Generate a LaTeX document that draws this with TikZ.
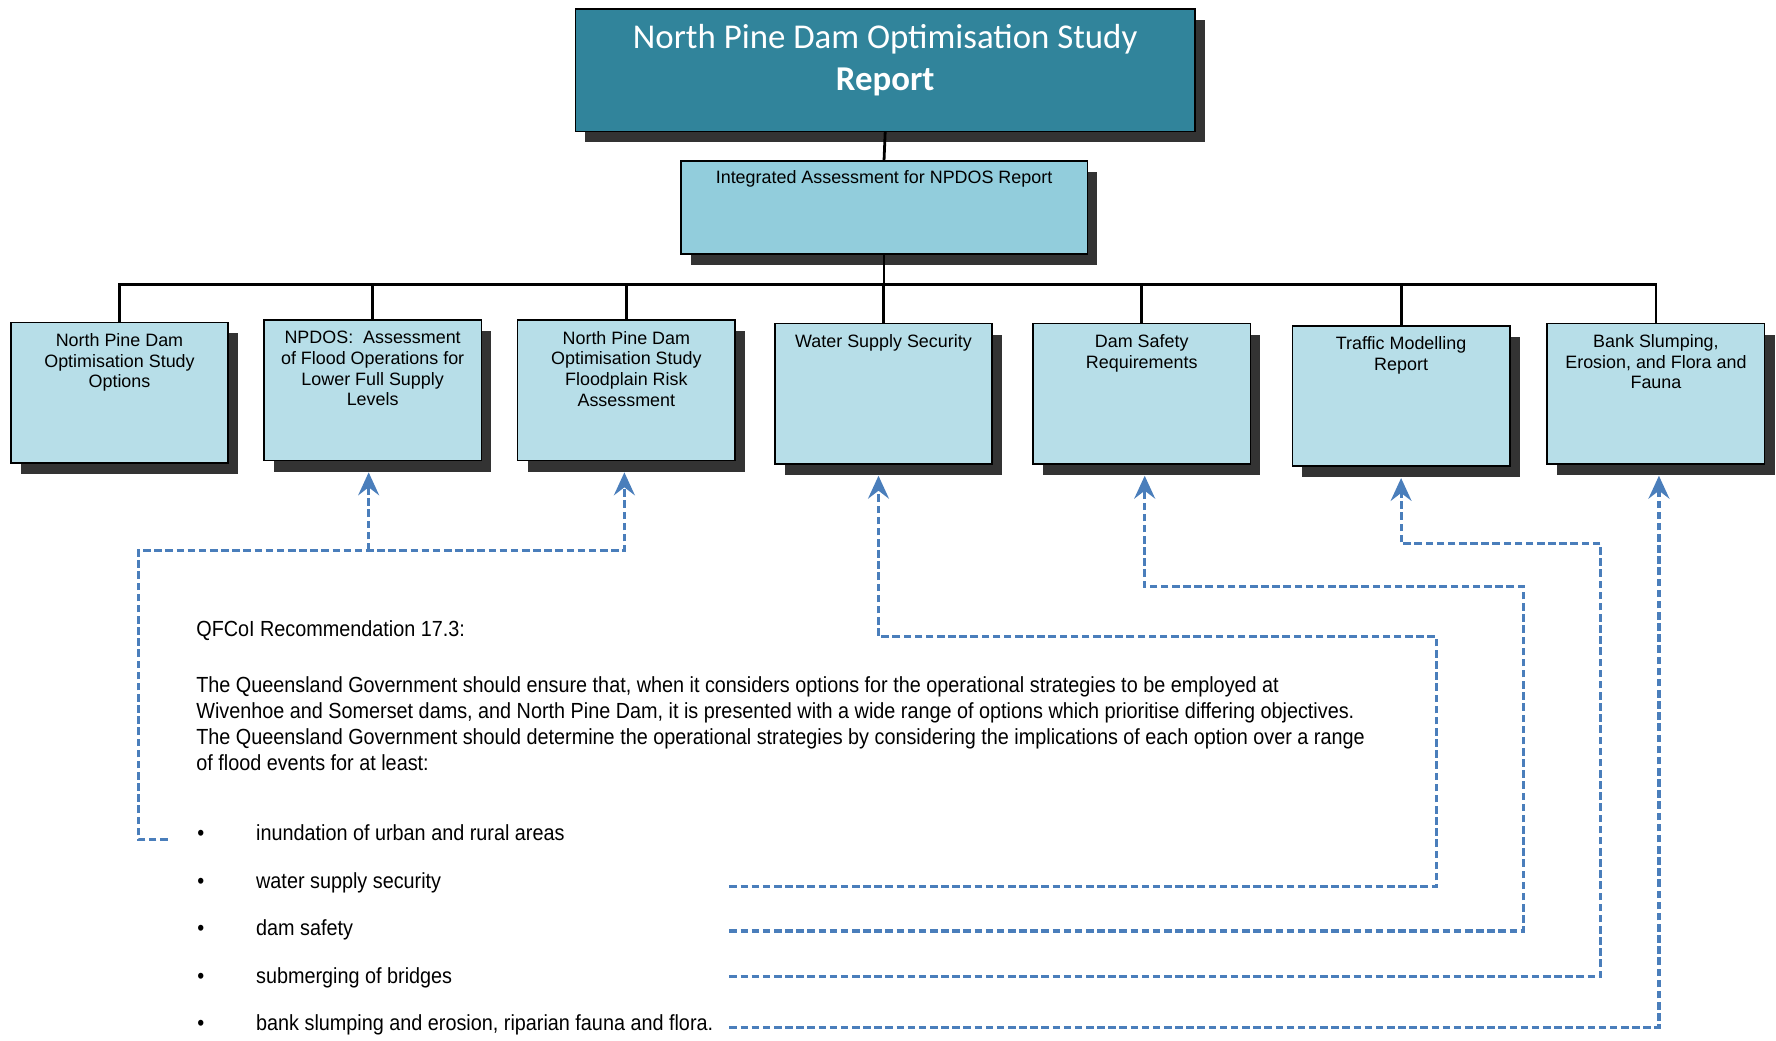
\documentclass[tikz,border=0pt]{standalone}
\usepackage{fontspec}
\setmainfont{Liberation Sans}
\newfontfamily\titlefont{Carlito}
\newfontfamily\narrowfont[FakeStretch=0.905]{Liberation Sans}
\usetikzlibrary{arrows.meta,shadows}
\definecolor{npteal}{HTML}{31849B}
\definecolor{hubblue}{HTML}{92CDDC}
\definecolor{cardblue}{HTML}{B7DEE8}
\definecolor{linkblue}{HTML}{4A7EBB}
\begin{document}
\begin{tikzpicture}[x=0.02cm,y=-0.02cm,
    box/.style={draw=black,line width=0.8pt,inner sep=0pt,
      drop shadow={shadow xshift=5pt,shadow yshift=-5.5pt,fill=black!80,opacity=1}},
    card/.style={box,fill=cardblue,anchor=north,minimum width=3.84cm,minimum height=2.48cm},
    cardtxt/.style={anchor=north,align=center,inner sep=0pt,font=\fontsize{9}{10.4}\selectfont},
    conn/.style={line width=1.4pt},
    link/.style={draw=linkblue,line width=1.6pt,dash pattern=on 3.8pt off 1.8pt},
    tip/.style={link,-{Stealth[length=11.5pt,width=10.5pt,inset=4pt]},shorten >=5.5pt},
    body/.style={anchor=west,inner sep=0pt,font=\narrowfont\fontsize{11}{13}\selectfont}]
\useasboundingbox (0,0) rectangle (1568,919);
\node[box,fill=npteal,minimum width=10.94cm,minimum height=2.16cm] (study) at (781.5,62) {};
\node[anchor=north,align=center,inner sep=0pt,text=white,font=\titlefont\fontsize{17.5}{21}\selectfont] (studytxt) at ([yshift=-7.9pt]study.north) {North Pine Dam Optimisation Study\\\textbf{Report}};
\node[box,fill=hubblue,minimum width=7.18cm,minimum height=1.64cm] (hub) at (780.5,183) {};
\node[cardtxt] (hubtxt) at ([yshift=-5.2pt]hub.north) {Integrated Assessment for NPDOS Report};
\node[card] (options) at (105.5,284) {};
\node[card] (floodops) at (329,282) {};
\node[card] (floodplain) at (553,282) {};
\node[card] (water) at (780,285) {};
\node[card] (damsafety) at (1008,285) {};
\node[card] (traffic) at (1237,287) {};
\node[card] (bank) at (1462,285) {};
\node[cardtxt] (optionstxt) at ([yshift=-5.7pt]options.north) {North Pine Dam\\Optimisation Study\\Options};
\node[cardtxt] (floodopstxt) at ([yshift=-5.7pt]floodops.north) {NPDOS:\ \ Assessment\\of Flood Operations for\\Lower Full Supply\\Levels};
\node[cardtxt] (floodplaintxt) at ([yshift=-5.7pt]floodplain.north) {North Pine Dam\\Optimisation Study\\Floodplain Risk\\Assessment};
\node[cardtxt] (watertxt) at ([yshift=-5.7pt]water.north) {Water Supply Security};
\node[cardtxt] (damsafetytxt) at ([yshift=-5.7pt]damsafety.north) {Dam Safety\\Requirements};
\node[cardtxt] (traffictxt) at ([yshift=-5.7pt]traffic.north) {Traffic Modelling\\Report};
\node[cardtxt] (banktxt) at ([yshift=-5.7pt]bank.north) {Bank Slumping,\\Erosion, and Flora and\\Fauna};
\draw[conn] (study.south) -- (hub.north);
\draw[conn] (hub.south) -- (hub.south |- 0,251);
\draw[conn] (options.north) -- (options.north |- 0,251) -- (bank.north |- 0,251) -- (bank.north);
\draw[conn] (floodops.north) -- (floodops.north |- 0,251);
\draw[conn] (floodplain.north) -- (floodplain.north |- 0,251);
\draw[conn] (water.north) -- (water.north |- 0,251);
\draw[conn] (damsafety.north) -- (damsafety.north |- 0,251);
\draw[conn] (traffic.north) -- (traffic.north |- 0,251);
\node[body] (rec) at (173,557) {QFCoI Recommendation 17.3:};
\node[body,anchor=north west,align=left] (para) at (173,597) {The Queensland Government should ensure that, when it considers options for the operational strategies to be employed at\\Wivenhoe and Somerset dams, and North Pine Dam, it is presented with a wide range of options which prioritise differing objectives.\\The Queensland Government should determine the operational strategies by considering the implications of each option over a range\\of flood events for at least:};
\node[body] (inund) at (174,735) {\makebox[29.5pt][l]{\textbullet}inundation of urban and rural areas};
\node[body] (supply) at (174,779) {\makebox[29.5pt][l]{\textbullet}water supply security};
\node[body] (safety) at (174,821) {\makebox[29.5pt][l]{\textbullet}dam safety};
\node[body] (bridges) at (174,863) {\makebox[29.5pt][l]{\textbullet}submerging of bridges};
\node[body] (slump) at (174,905) {\makebox[29.5pt][l]{\textbullet}bank slumping and erosion, riparian fauna and flora.};
\coordinate (inundend) at (148,741);
\coordinate (supplyend) at (644,783);
\coordinate (safetyend) at (644,822);
\coordinate (bridgesend) at (644,862);
\coordinate (slumpend) at (644,907);
\draw[tip] (inundend) -- (122,741) -- (122,486) -| ([xshift=-1pt]floodplain.south);
\draw[tip] ([xshift=-2pt]floodops.south |- 0,486) -- ([xshift=-2pt]floodops.south);
\draw[tip] (supplyend) -| (1268,562) -| ([xshift=-2.5pt]water.south);
\draw[tip] (safetyend) -| (1345,518) -| ([xshift=1.5pt]damsafety.south);
\draw[tip] (bridgesend) -| (1413,480) -| (traffic.south);
\draw[tip] (slumpend) -| ([xshift=1.5pt]bank.south);
\end{tikzpicture}
\end{document}
